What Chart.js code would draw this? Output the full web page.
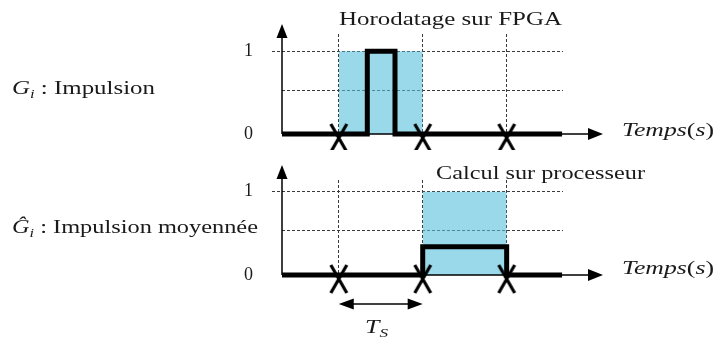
<!DOCTYPE html>
<html>
<head>
<meta charset="utf-8">
<script src="https://cdn.jsdelivr.net/npm/chart.js@4/dist/chart.umd.min.js"></script>
<style>
  body { margin: 0; width: 716px; height: 338px; position: relative; overflow: hidden; background: #fff; }
  canvas { position: absolute; left: 0; }
  .t { position: absolute; white-space: nowrap; font-family: 'Liberation Serif', serif; font-size: 18px; line-height: 1; color: #1a1a1a; transform-origin: 0 0; }
  .t i { font-style: italic; }
  .t sub { font-size: 12px; font-style: italic; vertical-align: -4px; line-height: 0; }
</style>
</head>
<body>
<canvas id="topChart" width="716" height="150" style="top:0"></canvas>
<canvas id="bottomChart" width="716" height="188" style="top:150px"></canvas>

<div class="t" style="left:339px;top:10px" data-w="223">Horodatage sur FPGA</div>
<div class="t" style="left:436px;top:164px" data-w="209">Calcul sur processeur</div>
<div class="t" style="left:12px;top:79px" data-w="143"><i>G</i><sub>i</sub> : Impulsion</div>
<div class="t" style="left:12px;top:218px" data-w="246"><i>Ĝ</i><sub>i</sub> : Impulsion moyennée</div>
<div class="t" style="left:622px;top:121px" data-w="92"><i>Temps</i>(<i>s</i>)</div>
<div class="t" style="left:622px;top:259px" data-w="92"><i>Temps</i>(<i>s</i>)</div>
<div class="t" style="left:365px;top:318px" data-w="23"><i>T</i><sub>S</sub></div>

<script>
// sample instants (units of Ts) and signal levels
const timeTicks = [1, 2, 3]
const levelTicks = [0, 0.53, 1]
const levelLabels = ['0', '', '1']

// G_i : impulsion (FPGA)
const pulseX = [0.324, 1.34, 1.34, 1.67, 1.67, 3.66]
const pulseY = [0, 0, 1, 1, 0, 0]
// G^_i : impulsion moyennee
const avgX = [0.324, 2, 2, 3, 3, 3.66]
const avgY = [0, 0, 0.34, 0.34, 0, 0]
// shaded windows
const fpgaX = [1, 1, 2, 2]
const fpgaY = [0, 1, 1, 0]
const cpuX = [2, 2, 3, 3]
const cpuY = [0, 1, 1, 0]
// sampling marks
const sampleX = [1, 2, 3]
const sampleY = [0, 0, 0]

const pts = (xs, ys) => xs.map((x, i) => ({ x: x, y: ys[i] }))

// X marker, a bit taller than wide and hanging below the axis
const cross = document.createElement('canvas')
cross.width = 20
cross.height = 38
const cc = cross.getContext('2d')
cc.strokeStyle = '#000'
cc.lineWidth = 3.2
cc.beginPath()
cc.moveTo(2, 9); cc.lineTo(18, 37)
cc.moveTo(18, 9); cc.lineTo(2, 37)
cc.stroke()

const arrowHead = (ctx, x, y, dx, dy, len, half) => {
  // dx,dy unit direction of the arrow
  ctx.beginPath()
  ctx.moveTo(x, y)
  ctx.lineTo(x - dx * len - dy * half, y - dy * len + dx * half)
  ctx.lineTo(x - dx * len + dy * half, y - dy * len - dx * half)
  ctx.closePath()
  ctx.fill()
}

const axesPlugin = {
  id: 'axes',
  afterDatasetsDraw(chart, args, opts) {
    const ctx = chart.ctx
    const area = chart.chartArea
    const y0 = chart.scales.y.getPixelForValue(0)
    const x0 = area.left
    const topTip = area.top - opts.above
    const rightTip = area.right + 40
    ctx.save()
    ctx.strokeStyle = '#000'
    ctx.fillStyle = '#000'
    ctx.lineWidth = 1.5
    ctx.beginPath()
    ctx.moveTo(x0, y0); ctx.lineTo(x0, topTip + 10)
    ctx.moveTo(x0, y0); ctx.lineTo(rightTip - 10, y0)
    ctx.stroke()
    arrowHead(ctx, x0, topTip, 0, -1, 14, 5.5)
    arrowHead(ctx, rightTip, y0, 1, 0, 15, 6)
    if (opts.period) {
      const xa = chart.scales.x.getPixelForValue(timeTicks[0])
      const xb = chart.scales.x.getPixelForValue(timeTicks[1])
      const ya = y0 + 29
      ctx.beginPath()
      ctx.moveTo(xa + 8, ya); ctx.lineTo(xb - 8, ya)
      ctx.stroke()
      arrowHead(ctx, xa, ya, -1, 0, 15, 5.5)
      arrowHead(ctx, xb, ya, 1, 0, 15, 5.5)
    }
    ctx.restore()
  }
}

const makeChart = (id, yMax, pad, signal, windowPts, axesOpts) => new Chart(document.getElementById(id), {
  type: 'line',
  data: {
    datasets: [
      {
        data: pts(sampleX, sampleY),
        showLine: false,
        pointStyle: cross,
        pointRadius: 10,
        clip: false
      },
      {
        data: signal,
        borderColor: '#000',
        borderWidth: 5,
        borderJoinStyle: 'miter',
        borderCapStyle: 'butt',
        pointRadius: 0,
        tension: 0,
        fill: false,
        clip: false
      },
      {
        data: windowPts,
        borderWidth: 0,
        pointRadius: 0,
        tension: 0,
        fill: 'origin',
        backgroundColor: 'rgba(85,192,220,0.6)'
      }
    ]
  },
  options: {
    responsive: false,
    animation: false,
    events: [],
    layout: { padding: pad },
    plugins: {
      legend: { display: false },
      tooltip: { enabled: false },
      axes: axesOpts
    },
    scales: {
      x: {
        type: 'linear',
        min: 0.324,
        max: 3.671,
        afterBuildTicks: s => { s.ticks = timeTicks.map(v => ({ value: v })) },
        afterFit: s => { s.height = 0 },
        ticks: { display: false },
        grid: { color: '#3a3a3a', lineWidth: 1, drawTicks: false },
        border: { display: false, dash: [3, 2] }
      },
      y: {
        type: 'linear',
        min: 0,
        max: yMax,
        afterBuildTicks: s => { s.ticks = levelTicks.map(v => ({ value: v })) },
        afterFit: s => {
          s.width = 60
          s.paddingTop = 0
          s.paddingBottom = 0
        },
        ticks: {
          padding: 19,
          color: '#1a1a1a',
          font: { family: 'Liberation Serif', size: 18 },
          callback: (v, i) => levelLabels[i]
        },
        grid: {
          color: c => c.tick && c.tick.value === 0 ? 'rgba(0,0,0,0)' : '#3a3a3a',
          lineWidth: 1,
          drawTicks: true,
          tickLength: 10,
          tickColor: c => c.tick && c.tick.value === 1 ? '#3a3a3a' : 'rgba(0,0,0,0)',
          tickBorderDash: [3, 2]
        },
        border: { display: false, dash: [3, 2] }
      }
    }
  },
  plugins: [axesPlugin]
})

makeChart('topChart', 1.209, { left: 222, right: 153, top: 34, bottom: 16 },
  pts(pulseX, pulseY), pts(fpgaX, fpgaY), { above: 10, period: false })
makeChart('bottomChart', 1.141, { left: 222, right: 153, top: 30, bottom: 63 },
  pts(avgX, avgY), pts(cpuX, cpuY), { above: 15, period: true })

const fitLabels = () => {
  document.querySelectorAll('.t').forEach(el => {
    el.style.transform = 'none'
    const w = el.getBoundingClientRect().width
    el.style.transform = 'scaleX(' + (el.dataset.w / w) + ')'
  })
}
fitLabels()
document.fonts.ready.then(fitLabels)
</script>
</body>
</html>
